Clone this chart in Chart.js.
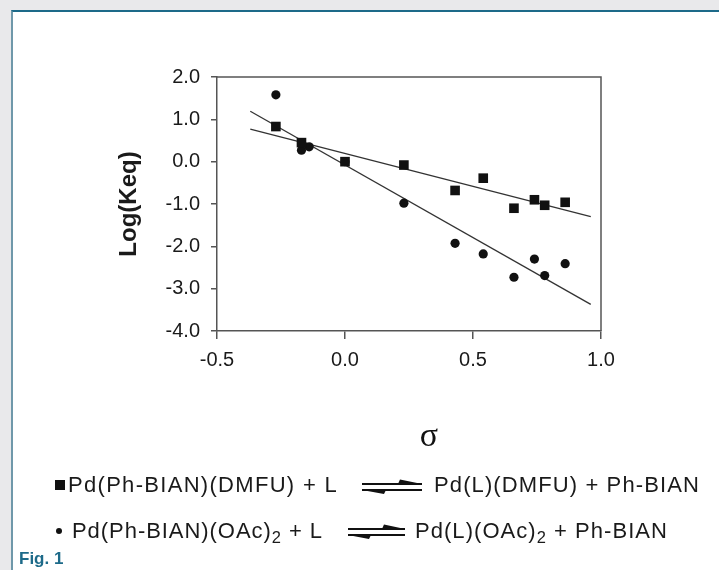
<!DOCTYPE html>
<html>
<head>
<meta charset="utf-8">
<script src="https://cdn.jsdelivr.net/npm/chart.js@4.4.1/dist/chart.umd.min.js"></script>
<style>
  html, body { margin: 0; padding: 0; width: 719px; height: 570px; overflow: hidden; background: #e9e9eb; }
  body { font-family: "Liberation Sans", Arial, sans-serif; }
  #panel {
    position: absolute; left: 11px; top: 10px; width: 720px; height: 570px;
    background: #fff; border-top: 2px solid #1d6a89; border-left: 2px solid #6f98aa;
    box-sizing: border-box;
  }
  #chart { position: absolute; left: 0; top: 0; }
  .txt { position: absolute; font-size: 22px; color: #1a1a1a; white-space: nowrap; line-height: 22px; }
  .txt sub { font-size: 0.75em; vertical-align: -0.3em; line-height: 0; }
  .mark { position: absolute; background: #111; }
  .arrows { position: absolute; }
  #sigma { position: absolute; left: 417px; top: 418px; width: 24px; text-align: center;
           font-family: "Liberation Serif", "DejaVu Serif", serif; font-size: 34px; line-height: 34px; color: #111; }
  #fig { position: absolute; left: 19px; top: 550px; font-size: 17px; font-weight: bold; color: #1d6a89; line-height: 18px; }
</style>
</head>
<body>
<div id="panel"></div>
<canvas id="chart" width="719" height="570"></canvas>

<div id="sigma">σ</div>

<div class="mark" style="left:55px; top:480px; width:10px; height:10px;"></div>
<div class="txt" id="l1a" style="left:68px; top:474px;">Pd(Ph-BIAN)(DMFU) + L</div>
<svg class="arrows" style="left:362px; top:478px;" width="60" height="16">
  <line x1="0" y1="6" x2="60" y2="6" stroke="#111" stroke-width="1.8"/>
  <polygon points="38,1.5 60,6 36,6" fill="#111"/>
  <line x1="0" y1="12" x2="60" y2="12" stroke="#111" stroke-width="1.8"/>
  <polygon points="0,12 24,12 22,16" fill="#111"/>
</svg>
<div class="txt" id="l1b" style="left:434px; top:474px;">Pd(L)(DMFU) + Ph-BIAN</div>

<div class="mark" style="left:56px; top:528px; width:6px; height:6px; border-radius:3px;"></div>
<div class="txt" id="l2a" style="left:72px; top:520px;">Pd(Ph-BIAN)(OAc)<sub>2</sub> + L</div>
<svg class="arrows" style="left:348px; top:523px;" width="57" height="16">
  <line x1="0" y1="6" x2="57" y2="6" stroke="#111" stroke-width="1.8"/>
  <polygon points="36,1.5 57,6 34,6" fill="#111"/>
  <line x1="0" y1="12" x2="57" y2="12" stroke="#111" stroke-width="1.8"/>
  <polygon points="0,12 23,12 21,16" fill="#111"/>
</svg>
<div class="txt" id="l2b" style="left:415px; top:520px;">Pd(L)(OAc)<sub>2</sub> + Ph-BIAN</div>

<div id="fig">Fig. 1</div>

<script>
// sigma values and log(Keq)
var squareSigma = [-0.27, -0.17, 0.0, 0.23, 0.43, 0.54, 0.66, 0.74, 0.78, 0.86];
var squareLogK  = [0.83, 0.45, 0.0, -0.08, -0.68, -0.39, -1.10, -0.90, -1.03, -0.96];

var circleSigma = [-0.27, -0.17, -0.14, 0.0, 0.23, 0.43, 0.54, 0.66, 0.74, 0.78, 0.86];
var circleLogK  = [1.58, 0.27, 0.35, 0.0, -0.98, -1.93, -2.18, -2.73, -2.30, -2.69, -2.41];

// end points of the two fitted lines
var fitSigma      = [-0.37, 0.96];
var squareFitLogK = [0.77, -1.30];
var circleFitLogK = [1.19, -3.37];

var xTicks = [-0.5, 0.0, 0.5, 1.0];
var yTicks = [-4, -3, -2, -1, 0, 1, 2];

function pts(xs, ys) {
  return xs.map(function (x, i) { return { x: x, y: ys[i] }; });
}

// fit legend strings to the widths measured on the figure
function fitWidth(id, w) {
  var el = document.getElementById(id);
  var n = el.textContent.length;
  var natural = el.getBoundingClientRect().width;
  el.style.letterSpacing = ((w - natural) / n) + 'px';
}
fitWidth('l1a', 270);
fitWidth('l1b', 266);
fitWidth('l2a', 251);
fitWidth('l2b', 253);

Chart.defaults.font.family = '"Liberation Sans", Arial, sans-serif';
Chart.defaults.color = '#1a1a1a';

var axisColor = '#555';

var frame = {
  id: 'frame',
  afterDatasetsDraw: function (chart) {
    var a = chart.chartArea;
    var ctx = chart.ctx;
    ctx.save();
    ctx.strokeStyle = axisColor;
    ctx.lineWidth = 1.5;
    ctx.beginPath();
    ctx.moveTo(a.left, a.top);
    ctx.lineTo(a.right, a.top);
    ctx.lineTo(a.right, a.bottom);
    ctx.stroke();
    ctx.restore();
  }
};

new Chart(document.getElementById('chart'), {
  type: 'scatter',
  data: {
    datasets: [
      {
        label: 'DMFU',
        data: pts(squareSigma, squareLogK),
        pointStyle: 'rect',
        pointRadius: 6.8,
        backgroundColor: '#111',
        borderColor: '#111',
        borderWidth: 0
      },
      {
        label: 'OAc2',
        data: pts(circleSigma, circleLogK),
        pointStyle: 'circle',
        pointRadius: 4.6,
        backgroundColor: '#111',
        borderColor: '#111',
        borderWidth: 0
      },
      {
        label: 'DMFU fit',
        data: pts(fitSigma, squareFitLogK),
        showLine: true,
        pointRadius: 0,
        borderColor: '#333',
        borderWidth: 1.3
      },
      {
        label: 'OAc2 fit',
        data: pts(fitSigma, circleFitLogK),
        showLine: true,
        pointRadius: 0,
        borderColor: '#333',
        borderWidth: 1.3
      }
    ]
  },
  options: {
    responsive: false,
    animation: false,
    layout: { padding: { left: 0, top: 77, right: 118, bottom: 110 } },
    plugins: {
      legend: { display: false },
      tooltip: { enabled: false }
    },
    scales: {
      x: {
        type: 'linear',
        min: -0.5,
        max: 1.0,
        afterFit: function (scale) { scale.height = 129; },
        afterBuildTicks: function (scale) {
          scale.ticks = xTicks.map(function (v) { return { value: v }; });
        },
        ticks: {
          font: { size: 20 },
          color: '#1a1a1a',
          padding: 9,
          maxRotation: 0,
          callback: function (v) { return v.toFixed(1); }
        },
        grid: { drawOnChartArea: false, drawTicks: true, tickLength: 8, color: axisColor, lineWidth: 1.5 },
        border: { color: axisColor, width: 1.5 }
      },
      y: {
        type: 'linear',
        min: -4,
        max: 2,
        afterFit: function (scale) { scale.width = 217; },
        afterBuildTicks: function (scale) {
          scale.ticks = yTicks.map(function (v) { return { value: v }; });
        },
        ticks: {
          font: { size: 20 },
          color: '#1a1a1a',
          padding: 11,
          callback: function (v) { return v.toFixed(1); }
        },
        grid: { drawOnChartArea: false, drawTicks: true, tickLength: 6, color: axisColor, lineWidth: 1.5 },
        border: { color: axisColor, width: 1.5 },
        title: {
          display: true,
          text: 'Log(Keq)',
          font: { size: 24, weight: 'bold' },
          color: '#1a1a1a',
          padding: { top: 115, bottom: 0 }
        }
      }
    }
  },
  plugins: [frame]
});
</script>
</body>
</html>
